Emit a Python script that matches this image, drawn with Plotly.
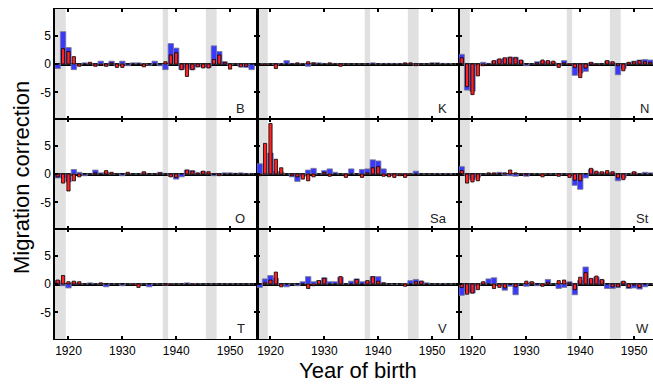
import plotly.graph_objects as go

years = list(range(1918, 1955))

panels = ["B", "K", "N", "O", "Sa", "St", "T", "V", "W"]

B_blue = [-0.8, 5.7, 2.9, -1.0, -0.2, 0.2, 0.1, -0.3, 0.5, -0.3, 0.5, -0.3, 0.5, -0.3, 0.2, 0.2, 0.0, -0.2, 0.5, -0.3, -1.0, 3.6, 2.8, -1.0, -0.7, -1.0, -0.5, -0.5, -0.6, 3.2, 2.2, 0.4, -0.2, 0.0, -0.5, -0.6, -1.0]
B_red = [0.0, 2.7, 2.2, 1.3, -0.4, 0.0, 0.3, -0.4, -0.2, -0.4, 0.2, -0.6, -0.6, 0.0, 0.0, 0.0, -0.5, 0.0, 0.0, 0.0, 0.4, 1.6, 2.0, -1.0, -2.2, -1.0, -0.5, -0.7, -0.7, 0.8, 1.6, 0.3, -0.9, 0.0, -0.5, -0.4, 0.0]

K_blue = [0.0, 0.0, 0.0, -0.2, 0.1, 0.6, 0.1, 0.1, 0.1, -0.4, 0.2, 0.2, 0.1, 0.1, 0.1, -0.1, 0.0, 0.0, 0.0, 0.0, 0.0, 0.2, 0.0, 0.1, 0.1, 0.1, 0.1, 0.1, 0.1, -0.2, 0.0, 0.0, 0.2, 0.2, 0.1, 0.1, 0.0]
K_red = [-0.2, -0.2, 0.0, -0.8, 0.0, 0.0, 0.0, 0.2, 0.0, 0.4, 0.2, 0.0, 0.0, 0.2, 0.0, -0.4, 0.0, 0.0, 0.0, 0.0, 0.0, 0.0, 0.0, 0.0, 0.0, 0.0, 0.0, 0.2, 0.2, -0.3, 0.0, 0.0, 0.1, 0.1, 0.0, 0.0, 0.0]

N_blue = [1.7, -4.6, -4.8, -0.3, 0.3, 0.1, 0.5, 0.8, 1.0, 1.2, 1.2, 0.6, -0.3, 0.0, 0.4, 0.5, 0.4, 0.3, -0.3, 0.6, 0.0, -2.0, -1.6, -1.3, 0.2, 0.0, 0.0, 0.5, 0.2, -1.9, -0.8, 0.2, 0.5, 0.7, 0.8, 0.7, 0.5]
N_red = [1.1, -4.0, -5.4, -2.1, -0.3, 0.0, 0.6, 0.9, 1.1, 1.2, 1.1, 0.7, 0.0, 0.0, 0.2, 0.7, 0.6, 0.5, -0.6, 0.2, -0.2, -0.6, -2.4, -0.7, 0.3, -0.2, 0.0, 0.6, 0.4, -0.3, -1.2, 0.3, 0.4, 0.6, 0.4, 0.3, 0.0]

O_blue = [-0.7, -0.6, -1.4, 0.8, 0.3, -0.3, 0.0, 0.7, 0.2, 0.3, 0.0, 0.0, -0.3, 0.1, 0.0, 0.0, 0.2, 0.0, 0.0, 0.3, 0.0, -0.4, -0.9, -0.5, 0.7, 0.6, 0.1, 0.4, 0.1, -0.3, -0.2, 0.2, 0.2, 0.1, 0.2, 0.1, 0.1]
O_red = [-0.5, -1.6, -3.0, -1.2, -0.5, 0.0, 0.0, 0.2, 0.0, 0.6, 0.3, 0.0, 0.0, 0.3, 0.0, 0.0, 0.4, 0.0, 0.0, 0.2, 0.0, -0.5, -0.6, 0.0, 0.7, 0.5, 0.2, 0.5, 0.4, -0.1, -0.3, 0.0, 0.0, 0.1, 0.0, 0.0, 0.0]

Sa_blue = [1.8, 0.0, 3.7, 0.5, 0.3, 0.0, -0.5, -1.3, -0.4, 0.7, 1.0, 0.0, 0.6, 0.9, 0.3, 0.0, 0.0, 0.9, 0.0, 0.8, 0.9, 2.5, 2.3, 0.9, 0.0, -0.3, 0.0, 0.0, 0.0, 0.5, 0.0, 0.0, 0.0, 0.1, 0.0, 0.1, 0.0]
Sa_red = [-0.3, 5.4, 8.9, 2.6, 1.1, 0.0, -0.3, -0.5, -0.9, -1.2, -0.5, 0.0, 0.3, -0.4, 0.0, 0.0, -0.6, 0.0, 0.0, -0.6, 0.2, 1.1, 1.3, -0.4, -0.5, -0.6, -0.3, -0.6, -0.2, 0.0, 0.0, 0.0, 0.0, 0.0, 0.0, 0.0, 0.0]

St_blue = [1.3, -0.3, -1.0, -0.6, 0.0, 0.1, 0.1, 0.3, -0.2, -0.3, -0.4, 0.0, -0.4, 0.0, 0.1, 0.0, 0.0, 0.0, -0.2, 0.0, 0.0, -2.0, -2.7, -0.7, 0.8, 0.3, 0.2, 0.3, 0.2, -1.2, -0.7, 0.0, 0.3, 0.1, 0.3, 0.2, 0.2]
St_red = [0.6, -1.6, -1.4, -1.2, 0.0, 0.2, 0.2, 0.1, 0.2, 0.7, 0.2, 0.0, -0.2, 0.0, 0.0, -0.5, 0.0, 0.0, -0.4, 0.0, -0.6, -1.1, -1.2, 0.0, 1.0, 0.5, 0.4, 0.6, 0.4, -0.7, -1.0, 0.0, 0.4, 0.0, 0.0, 0.0, 0.0]

T_blue = [0.6, -0.3, -0.7, 0.3, 0.1, 0.0, 0.2, 0.1, 0.0, -0.5, 0.0, 0.0, -0.3, 0.0, 0.0, -0.2, 0.0, -0.5, 0.0, 0.0, -0.2, 0.0, 0.0, 0.0, 0.2, 0.0, 0.1, 0.0, 0.0, 0.0, 0.0, 0.0, 0.1, 0.0, 0.0, 0.0, 0.0]
T_red = [0.7, 1.5, 0.4, 0.5, 0.4, 0.0, 0.0, 0.0, 0.2, 0.0, 0.0, 0.0, 0.0, 0.0, -0.2, -0.6, 0.0, 0.0, 0.0, 0.0, -0.2, -0.2, 0.0, 0.0, 0.0, -0.2, 0.0, 0.0, 0.0, 0.0, 0.0, 0.0, 0.0, 0.0, 0.0, 0.0, 0.0]

V_blue = [-0.6, 0.9, 1.5, 1.0, -0.2, -0.5, 0.0, -0.3, 0.4, 1.3, 0.4, 0.6, 1.1, 0.4, 0.4, 1.2, 0.0, 0.5, 0.9, 0.4, 0.5, 1.3, 1.3, 0.2, 0.0, -0.1, 0.0, 0.0, 0.6, 0.8, 0.5, 0.2, 0.0, 0.0, 0.1, 0.0, 0.0]
V_red = [0.0, 0.2, 0.7, 2.1, -0.5, 0.0, 0.0, 0.0, 0.0, -0.8, -0.3, 0.6, 1.0, 0.0, 0.0, 1.3, 0.0, 0.0, 0.8, 0.0, 0.6, 1.3, 0.5, 0.2, 0.0, 0.0, 0.0, -0.4, 0.0, 0.4, 0.5, 0.0, 0.0, 0.0, 0.0, 0.0, 0.0]

W_blue = [-2.0, -1.4, -1.6, -0.2, 0.2, 0.9, 1.1, -0.3, -1.1, -0.4, -1.9, 0.0, -0.4, 0.3, -0.3, 0.0, 0.8, 0.0, -0.8, -0.6, 0.4, -1.9, 0.6, 3.0, 0.8, 1.2, 0.7, -0.8, -0.8, -0.6, 0.4, -0.8, -0.7, -0.9, -0.5, 0.0, 0.0]
W_red = [-0.6, -1.8, -1.6, -1.0, 0.4, 0.0, -0.8, -0.6, -0.7, -0.1, -0.5, 0.0, 0.5, 0.4, 0.0, -0.4, 0.3, 0.0, 0.6, 0.7, 0.2, -1.0, 1.2, 2.0, 1.0, 1.4, 0.8, 0.0, -0.5, -0.5, 0.5, -0.6, -0.2, -0.6, 0.0, 0.0, 0.0]

blue_series = [B_blue, K_blue, N_blue, O_blue, Sa_blue, St_blue, T_blue, V_blue, W_blue]
red_series = [B_red, K_red, N_red, O_red, Sa_red, St_red, T_red, V_red, W_red]

shade_bands = [(1917.5, 1919.5), (1937.5, 1938.5), (1945.5, 1947.5)]
x_ticks = [1920, 1930, 1940, 1950]
y_ticks = [-5, 0, 5]

W, H = 653, 384
ml, mt, mb = 55, 9, 45
pw = W - ml
ph = H - mt - mb
col_px = [(0, 202), (202, 404), (404, 598)]
x_ranges = [[1917.5, 1955], [1917.5, 1955], [1917.5, 1953.5]]
yr = 9.7

fig = go.Figure()
layout = dict(
    width=W, height=H,
    margin=dict(l=ml, r=0, t=mt, b=mb),
    paper_bgcolor="white", plot_bgcolor="white",
    barmode="overlay", showlegend=False,
    font=dict(family="Liberation Sans, Arial, sans-serif", size=12, color="black"),
)
shapes = []
annotations = []

for i, name in enumerate(panels):
    r, c = divmod(i, 3)
    k = i + 1
    xa = "x" if k == 1 else f"x{k}"
    ya = "y" if k == 1 else f"y{k}"
    fig.add_trace(go.Bar(x=years, y=blue_series[i], width=1.0, xaxis=xa, yaxis=ya,
                         marker=dict(color="#3838ff", line=dict(color="rgba(120,120,140,0.8)", width=1))))
    fig.add_trace(go.Bar(x=years, y=red_series[i], width=0.6, xaxis=xa, yaxis=ya,
                         marker=dict(color="#ff2222", line=dict(color="black", width=0.8))))
    dom_x = [col_px[c][0] / pw, col_px[c][1] / pw]
    dom_y = [(2 - r) / 3, (3 - r) / 3]
    layout["xaxis" if k == 1 else f"xaxis{k}"] = dict(
        domain=dom_x, range=x_ranges[c], anchor=ya,
        showgrid=False, zeroline=False, showline=True, linecolor="black", linewidth=1.2,
        mirror="allticks", ticks="inside", ticklen=3, tickcolor="black", tickwidth=1.5,
        tickvals=x_ticks, showticklabels=(r == 2), tickfont=dict(size=12),
    )
    layout["yaxis" if k == 1 else f"yaxis{k}"] = dict(
        domain=dom_y, range=[-yr, yr], anchor=xa,
        showgrid=False, zeroline=True, zerolinecolor="black", zerolinewidth=2.5,
        showline=True, linecolor="black", linewidth=(1.5 if c == 0 else 1.0),
        mirror=("allticks" if c < 2 else False), ticks="inside", ticklen=3, tickcolor="black", tickwidth=1.5,
        tickvals=y_ticks, ticktext=["-5", "0", "5"], showticklabels=(c == 0), tickfont=dict(size=12),
        layer="above traces",
    )
    for (x0, x1) in shade_bands:
        shapes.append(dict(type="rect", xref=xa, yref=f"{ya} domain", x0=x0, x1=x1, y0=0, y1=1,
                           fillcolor="#e0e0e0", line=dict(width=0), layer="below"))
    annotations.append(dict(text=name, xref=xa, yref=ya, x=1953.2, y=-7.9, xanchor="right",
                            yanchor="middle", showarrow=False, font=dict(size=13, color="#222")))

annotations.append(dict(text="Migration correction", xref="paper", yref="paper",
                        x=(21 - ml) / pw, y=(ph / 2 - 4) / ph, textangle=-90, showarrow=False,
                        xanchor="center", yanchor="middle", font=dict(size=22, color="black")))
annotations.append(dict(text="Year of birth", xref="paper", yref="paper",
                        x=(358 - ml) / pw, y=-(370 - mt - ph) / ph, showarrow=False,
                        xanchor="center", yanchor="middle", font=dict(size=22, color="black")))

layout["shapes"] = shapes
layout["annotations"] = annotations
fig.update_layout(**layout)
fig.write_html("out.html")
